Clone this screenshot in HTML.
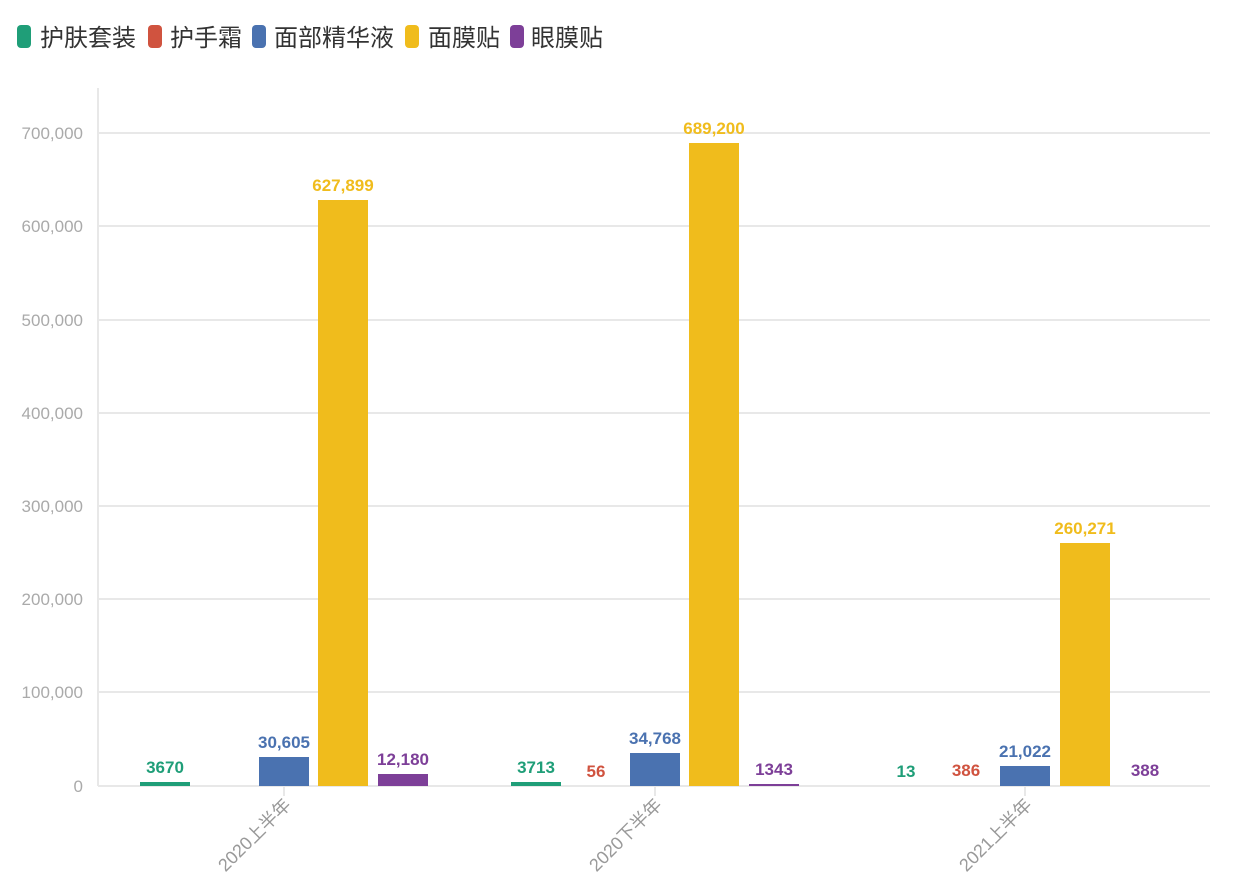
<!DOCTYPE html>
<html><head><meta charset="utf-8"><style>
body{margin:0;background:#fff;}
svg{display:block;font-family:"Liberation Sans","Noto Sans CJK SC",sans-serif;}
.lg{font-size:24px;fill:#333;}
.yt{font-size:17px;fill:#aaa;text-anchor:end;}
.v{font-size:17px;font-weight:bold;text-anchor:middle;}
.xt{font-size:18px;fill:#999;text-anchor:end;}
</style></head><body>
<svg width="1240" height="896" viewBox="0 0 1240 896">
<rect x="17" y="25" width="14" height="23" rx="4" fill="#1f9e78"/><text class="lg" x="40" y="46">护肤套装</text>
<rect x="148" y="25" width="14" height="23" rx="4" fill="#d0533f"/><text class="lg" x="170" y="46">护手霜</text>
<rect x="252" y="25" width="14" height="23" rx="4" fill="#4a72b0"/><text class="lg" x="274" y="46">面部精华液</text>
<rect x="405" y="25" width="14" height="23" rx="4" fill="#f0bc1c"/><text class="lg" x="428" y="46">面膜贴</text>
<rect x="510" y="25" width="14" height="23" rx="4" fill="#7d3f98"/><text class="lg" x="531" y="46">眼膜贴</text>
<g stroke="#e8e8e8" stroke-width="2">
<line x1="98" y1="133" x2="1210" y2="133"/><line x1="98" y1="226" x2="1210" y2="226"/>
<line x1="98" y1="320" x2="1210" y2="320"/><line x1="98" y1="413" x2="1210" y2="413"/>
<line x1="98" y1="506" x2="1210" y2="506"/><line x1="98" y1="599" x2="1210" y2="599"/>
<line x1="98" y1="692" x2="1210" y2="692"/><line x1="98" y1="786" x2="1210" y2="786"/>
<line x1="98" y1="88" x2="98" y2="786"/>
<line x1="284" y1="786" x2="284" y2="796"/><line x1="655" y1="786" x2="655" y2="796"/><line x1="1025" y1="786" x2="1025" y2="796"/>
</g>
<g class="yt">
<text x="83" y="139">700,000</text><text x="83" y="232">600,000</text><text x="83" y="326">500,000</text>
<text x="83" y="419">400,000</text><text x="83" y="512">300,000</text><text x="83" y="605">200,000</text>
<text x="83" y="698">100,000</text><text x="83" y="792">0</text>
</g>
<rect x="140" y="782" width="50" height="4" fill="#1f9e78"/>
<rect x="259" y="757" width="50" height="29" fill="#4a72b0"/>
<rect x="318" y="200" width="50" height="586" fill="#f0bc1c"/>
<rect x="378" y="774" width="50" height="12" fill="#7d3f98"/>
<text class="v" x="165" y="773" fill="#1f9e78">3670</text>
<text class="v" x="284" y="748" fill="#4a72b0">30,605</text>
<text class="v" x="343" y="191" fill="#f0bc1c">627,899</text>
<text class="v" x="403" y="765" fill="#7d3f98">12,180</text>
<rect x="511" y="782" width="50" height="4" fill="#1f9e78"/>
<rect x="630" y="753" width="50" height="33" fill="#4a72b0"/>
<rect x="689" y="143" width="50" height="643" fill="#f0bc1c"/>
<rect x="749" y="784" width="50" height="2" fill="#7d3f98"/>
<text class="v" x="536" y="773" fill="#1f9e78">3713</text>
<text class="v" x="596" y="777" fill="#d0533f">56</text>
<text class="v" x="655" y="744" fill="#4a72b0">34,768</text>
<text class="v" x="714" y="134" fill="#f0bc1c">689,200</text>
<text class="v" x="774" y="775" fill="#7d3f98">1343</text>
<rect x="1000" y="766" width="50" height="20" fill="#4a72b0"/>
<rect x="1060" y="543" width="50" height="243" fill="#f0bc1c"/>
<text class="v" x="906" y="777" fill="#1f9e78">13</text>
<text class="v" x="966" y="776" fill="#d0533f">386</text>
<text class="v" x="1025" y="757" fill="#4a72b0">21,022</text>
<text class="v" x="1085" y="534" fill="#f0bc1c">260,271</text>
<text class="v" x="1145" y="776" fill="#7d3f98">388</text>
<text class="xt" transform="translate(292,806) rotate(-45)">2020上半年</text>
<text class="xt" transform="translate(663,806) rotate(-45)">2020下半年</text>
<text class="xt" transform="translate(1033,806) rotate(-45)">2021上半年</text>
</svg>
</body></html>
